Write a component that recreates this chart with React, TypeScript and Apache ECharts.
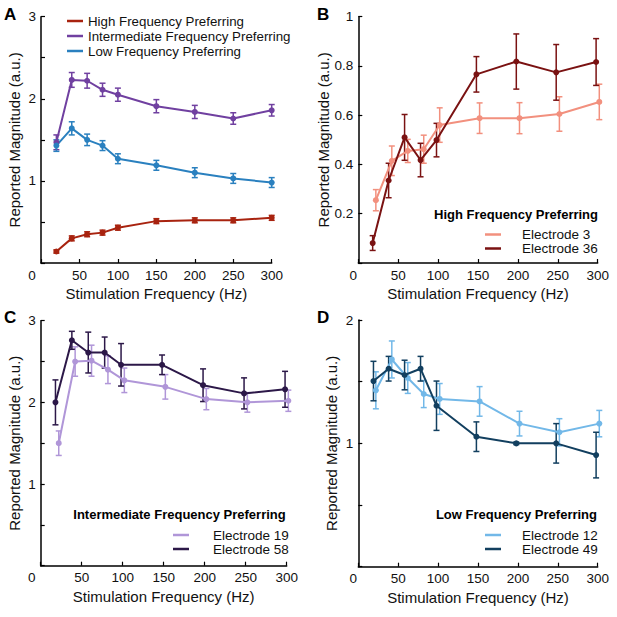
import React, { useEffect, useRef } from "react";
import * as echarts from "echarts";

const FONT = "'Liberation Sans', Arial, Helvetica, sans-serif";

// Panel A
const A_X = [20, 40, 60, 80, 100, 150, 200, 250, 300];
const A_HIGH = [0.14, 0.3, 0.35, 0.37, 0.43, 0.51, 0.52, 0.52, 0.55];
const A_HIGH_ERR = [0.02, 0.03, 0.03, 0.03, 0.03, 0.03, 0.03, 0.03, 0.03];
const A_INTER = [1.47, 2.23, 2.22, 2.11, 2.05, 1.91, 1.84, 1.76, 1.86];
const A_INTER_ERR = [0.09, 0.09, 0.09, 0.08, 0.08, 0.08, 0.08, 0.07, 0.07];
const A_LOW = [1.43, 1.64, 1.5, 1.43, 1.27, 1.19, 1.1, 1.03, 0.98];
const A_LOW_ERR = [0.07, 0.08, 0.07, 0.06, 0.06, 0.06, 0.06, 0.06, 0.06];

// Panel B
const B_X3 = [22, 42, 62, 82, 102, 152, 202, 252, 302];
const B_E3 = [0.255, 0.415, 0.455, 0.462, 0.56, 0.588, 0.588, 0.605, 0.654];
const B_E3_ERR = [0.043, 0.06, 0.047, 0.057, 0.07, 0.062, 0.063, 0.07, 0.072];
const B_X36 = [18, 38, 58, 78, 98, 148, 198, 248, 298];
const B_E36 = [0.081, 0.335, 0.51, 0.418, 0.499, 0.766, 0.818, 0.774, 0.816];
const B_E36_ERR = [0.03, 0.07, 0.093, 0.068, 0.068, 0.072, 0.112, 0.113, 0.095];

// Panel C
const C_X19 = [22, 42, 62, 82, 102, 152, 202, 252, 302];
const C_E19 = [1.5, 2.5, 2.51, 2.4, 2.27, 2.19, 2.04, 2.0, 2.02];
const C_E19_ERR = [0.15, 0.18, 0.19, 0.17, 0.15, 0.15, 0.13, 0.12, 0.13];
const C_X58 = [18, 38, 58, 78, 98, 148, 198, 248, 298];
const C_E58 = [2.0, 2.76, 2.61, 2.61, 2.46, 2.46, 2.21, 2.11, 2.16];
const C_E58_ERR = [0.275, 0.11, 0.25, 0.19, 0.26, 0.12, 0.2, 0.19, 0.22];

// Panel D
const D_X12 = [22, 42, 62, 82, 102, 152, 202, 252, 302];
const D_E12 = [1.43, 1.68, 1.53, 1.4, 1.36, 1.34, 1.16, 1.09, 1.16];
const D_E12_ERR = [0.15, 0.15, 0.125, 0.11, 0.125, 0.12, 0.1, 0.11, 0.107];
const D_X49 = [19, 38, 58, 78, 98, 148, 198, 248, 298];
const D_E49 = [1.505, 1.605, 1.554, 1.605, 1.305, 1.054, 1.0, 1.0, 0.905];
const D_E49_ERR = [0.16, 0.1, 0.12, 0.1, 0.2, 0.12, 0.01, 0.16, 0.185];

const X_TICKS = [0, 50, 100, 150, 200, 250, 300];

const COL = {
  high: "#a8230f",
  inter: "#7040a0",
  low: "#2a80bf",
  e3: "#f2907e",
  e36: "#7a1212",
  e19: "#b096d8",
  e58: "#2c1848",
  e12: "#72b8e8",
  e49: "#123f5f",
};

export default function App() {
  const ref = useRef<HTMLDivElement>(null);

  useEffect(() => {
    if (!ref.current) return;
    const chart = echarts.init(ref.current, null, { renderer: "svg" });

    const grids = [
      { left: 41, top: 16.7, width: 230.7, height: 246.3 },
      { left: 358.3, top: 16.7, width: 239.4, height: 246.3 },
      { left: 40.7, top: 320.7, width: 246, height: 245 },
      { left: 358.3, top: 320, width: 239.4, height: 246.7 },
    ];

    const xAxis = grids.map((_, i) => ({
      type: "value",
      gridIndex: i,
      min: X_TICKS[0],
      max: X_TICKS[X_TICKS.length - 1],
      interval: 50,
      name: "Stimulation Frequency (Hz)",
      nameLocation: "middle",
      nameGap: 23,
      nameTextStyle: { fontFamily: FONT, fontSize: 15, color: "#111" },
      axisLine: { lineStyle: { color: "#000", width: 1.5 } },
      axisTick: { inside: true, length: 4, lineStyle: { color: "#000", width: 1.2 } },
      splitLine: { show: false },
      axisLabel: {
        fontFamily: FONT,
        fontSize: 13.5,
        color: "#111",
        margin: 5,
        formatter: (v: number) => (v === 0 ? "{z|0}" : String(v)),
        rich: {
          z: {
            fontFamily: FONT,
            fontSize: 13.5,
            color: "#111",
            padding: [0, i % 2 === 0 ? 18 : 10, 0, 0],
          },
        },
      },
    }));

    const yCfg = [
      { max: 3, interval: 0.5, fmt: (v: number) => (v > 0 && Number.isInteger(v) ? String(v) : "") },
      { max: 1, interval: 0.2, fmt: (v: number) => (v > 0 ? String(v) : "") },
      { max: 3, interval: 0.5, fmt: (v: number) => (v > 0 && Number.isInteger(v) ? String(v) : "") },
      { max: 2, interval: 0.5, fmt: (v: number) => (v > 0 && Number.isInteger(v) ? String(v) : "") },
    ];

    const yAxis = yCfg.map((c, i) => ({
      type: "value",
      gridIndex: i,
      min: 0,
      max: c.max,
      interval: c.interval,
      name: "Reported Magnitude (a.u.)",
      nameLocation: "middle",
      nameGap: 19,
      nameTextStyle: { fontFamily: FONT, fontSize: 15, color: "#111" },
      axisLine: { show: true, lineStyle: { color: "#000", width: 1.5 } },
      axisTick: { show: true, inside: true, length: 4, lineStyle: { color: "#000", width: 1.2 } },
      splitLine: { show: false },
      axisLabel: { fontFamily: FONT, fontSize: 13.5, color: "#111", margin: 5, formatter: c.fmt },
    }));

    const errSeries = (name: string, gi: number, xs: number[], ys: number[], es: number[], color: string, lw = 1.5) => ({
      type: "custom",
      name,
      xAxisIndex: gi,
      yAxisIndex: gi,
      silent: true,
      clip: false,
      data: xs.map((x, k) => [x, ys[k] - es[k], ys[k] + es[k]]),
      encode: { x: 0, y: [1, 2] },
      renderItem: (params: any, api: any) => {
        const x = api.value(0);
        const lo = api.coord([x, api.value(1)]);
        const hi = api.coord([x, api.value(2)]);
        const w = 3;
        const style = { stroke: color, lineWidth: lw };
        return {
          type: "group",
          children: [
            { type: "line", shape: { x1: lo[0], y1: lo[1], x2: hi[0], y2: hi[1] }, style },
            { type: "line", shape: { x1: lo[0] - w, y1: lo[1], x2: lo[0] + w, y2: lo[1] }, style },
            { type: "line", shape: { x1: hi[0] - w, y1: hi[1], x2: hi[0] + w, y2: hi[1] }, style },
          ],
        };
      },
    });

    const lineSeries = (name: string, gi: number, xs: number[], ys: number[], color: string) => ({
      type: "line",
      name,
      xAxisIndex: gi,
      yAxisIndex: gi,
      clip: false,
      data: xs.map((x, k) => [x, ys[k]]),
      symbol: "circle",
      symbolSize: 6,
      lineStyle: { color, width: 2 },
      itemStyle: { color },
      color,
    });

    const series = [
      errSeries("e-high", 0, A_X, A_HIGH, A_HIGH_ERR, COL.high),
      lineSeries("High Frequency Preferring", 0, A_X, A_HIGH, COL.high),
      errSeries("e-inter", 0, A_X, A_INTER, A_INTER_ERR, COL.inter),
      lineSeries("Intermediate Frequency Preferring", 0, A_X, A_INTER, COL.inter),
      errSeries("e-low", 0, A_X, A_LOW, A_LOW_ERR, COL.low),
      lineSeries("Low Frequency Preferring", 0, A_X, A_LOW, COL.low),

      errSeries("e-3", 1, B_X3, B_E3, B_E3_ERR, COL.e3),
      lineSeries("Electrode 3", 1, B_X3, B_E3, COL.e3),
      errSeries("e-36", 1, B_X36, B_E36, B_E36_ERR, COL.e36),
      lineSeries("Electrode 36", 1, B_X36, B_E36, COL.e36),

      errSeries("e-19", 2, C_X19, C_E19, C_E19_ERR, COL.e19),
      lineSeries("Electrode 19", 2, C_X19, C_E19, COL.e19),
      errSeries("e-58", 2, C_X58, C_E58, C_E58_ERR, COL.e58),
      lineSeries("Electrode 58", 2, C_X58, C_E58, COL.e58),

      errSeries("e-12", 3, D_X12, D_E12, D_E12_ERR, COL.e12),
      lineSeries("Electrode 12", 3, D_X12, D_E12, COL.e12),
      errSeries("e-49", 3, D_X49, D_E49, D_E49_ERR, COL.e49),
      lineSeries("Electrode 49", 3, D_X49, D_E49, COL.e49),
    ];

    const legendBase = (data: string[], left: number, top: number, lh: number, pad: number) => ({
      orient: "vertical",
      left,
      top,
      padding: 0,
      itemGap: 0,
      itemWidth: 16,
      itemHeight: 2.5,
      icon: "rect",
      selectedMode: false,
      data,
      textStyle: { fontFamily: FONT, fontSize: 13.5, color: "#111", lineHeight: lh, padding: [0, 0, 0, pad] },
    });

    const legend = [
      { ...legendBase(["High Frequency Preferring", "Intermediate Frequency Preferring", "Low Frequency Preferring"], 67, 13.5, 15, 0), textStyle: { fontFamily: FONT, fontSize: 13.3, color: "#111", lineHeight: 15 } },
      legendBase(["Electrode 3", "Electrode 36"], 485, 227.5, 13, 16),
      legendBase(["Electrode 19", "Electrode 58"], 173, 528, 14, 19),
      legendBase(["Electrode 12", "Electrode 49"], 485, 528, 14, 16),
    ];

    const panelTitle = (t: string, left: number, top: number) => ({
      text: t,
      left,
      top,
      padding: 0,
      textStyle: { fontFamily: FONT, fontSize: 17, fontWeight: "bold", color: "#000" },
    });
    const subTitle = (t: string, right: number, top: number) => ({
      text: t,
      right,
      top,
      padding: 0,
      textStyle: { fontFamily: FONT, fontSize: 13, fontWeight: "bold", color: "#000" },
    });

    const title = [
      panelTitle("A", 4, 6),
      panelTitle("B", 317, 6),
      panelTitle("C", 4, 309),
      panelTitle("D", 317, 309),
      subTitle("High Frequency Preferring", 19, 207.5),
      subTitle("Intermediate Frequency Preferring", 617 - 285.7, 507.5),
      subTitle("Low Frequency Preferring", 20, 507.5),
    ];

    chart.setOption({
      animation: false,
      backgroundColor: "#fff",
      title,
      legend,
      grid: grids,
      xAxis,
      yAxis,
      series,
    });

    return () => chart.dispose();
  }, []);

  return <div ref={ref} style={{ position: "fixed", left: 0, top: 0, width: 617, height: 617 }} />;
}
